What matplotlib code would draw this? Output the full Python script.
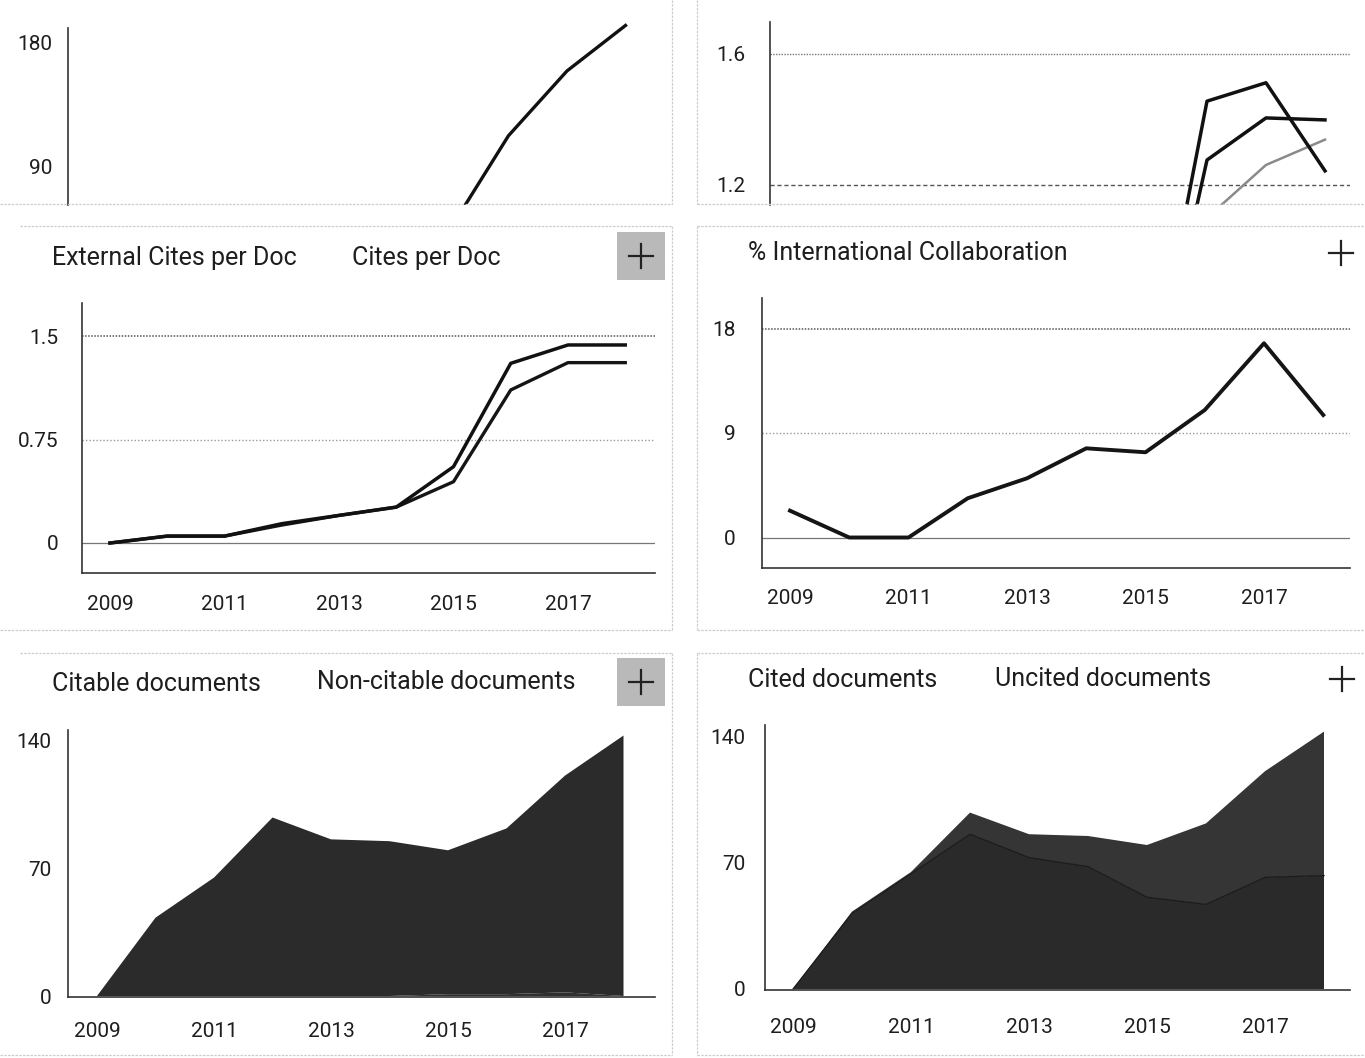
import numpy as np
import matplotlib
matplotlib.use("Agg")
import matplotlib.pyplot as plt
from matplotlib.patches import Rectangle

plt.rcParams['font.family'] = ['Roboto', 'DejaVu Sans']

# ---------------- data ----------------
years = [2009, 2010, 2011, 2012, 2013, 2014, 2015, 2016, 2017, 2018]
xtick_years = [2009, 2011, 2013, 2015, 2017]

# top-left (cropped) : total cites
total_cites = [0, 3, 4, 14, 17, 23, 44, 112, 159, 192]

# top-right (cropped) : citations per document
cpd_a = [0, 0.06, 0.07, 0.15, 0.21, 0.27, 0.53, 1.455, 1.511, 1.243]
cpd_b = [0, 0.05, 0.06, 0.13, 0.20, 0.26, 0.47, 1.276, 1.404, 1.398]
cpd_c = [0, 0.04, 0.06, 0.12, 0.18, 0.24, 0.45, 1.10, 1.261, 1.338]

# middle-left
cites_per_doc = [0, 0.05, 0.05, 0.14, 0.20, 0.26, 0.553, 1.302, 1.435, 1.435]
ext_cites_per_doc = [0, 0.05, 0.05, 0.13, 0.20, 0.26, 0.444, 1.109, 1.307, 1.307]

# middle-right
intl_collab = [2.31, 0, 0, 3.38, 5.10, 7.68, 7.34, 10.98, 16.73, 10.55]

# bottom-left
citable_docs = [0, 43, 65, 98, 86, 85, 79, 91, 119, 143]
non_citable_docs = [0, 0, 0, 0, 0, 0, 1, 1, 2, 0]

# bottom-right
uncited_docs = [0, 42, 64, 86, 73, 68, 51, 47, 62, 63]
cited_docs = [0, 1, 1, 12, 13, 17, 29, 45, 59, 80]

# ---------------- layout ----------------
W, H = 1365, 1058
fig = plt.figure(figsize=(W / 100, H / 100), dpi=100)
TXT = '#1e1e1e'
FS = 15


def px_axes(l, t, r, b, x0px, xstep, v0, v0px, vpx):
    ax = fig.add_axes([l / W, 1 - b / H, (r - l) / W, (b - t) / H])
    ax.set_xlim(2009 + (l - x0px) / xstep, 2009 + (r - x0px) / xstep)
    ax.set_ylim(v0 + (v0px - b) / vpx, v0 + (v0px - t) / vpx)
    for s in ('top', 'right'):
        ax.spines[s].set_visible(False)
    for s in ('left', 'bottom'):
        ax.spines[s].set_color('#333333')
        ax.spines[s].set_linewidth(1.2)
    ax.tick_params(length=0, labelsize=FS, colors=TXT)
    ax.set_facecolor('none')
    return ax


def grid(ax, vals, styles):
    for v, (c, ls, lw) in zip(vals, styles):
        ax.axhline(v, color=c, ls=ls, lw=lw, zorder=0)


# top-left
ax = px_axes(68, 22, 670, 205, 99, 58.5, 90, 166, 124 / 90)
ax.plot(years, total_cites, color='#111111', lw=2.4)
ax.spines['bottom'].set_visible(False)
ax.spines['left'].set_bounds(ax.get_ylim()[0], 90 + (166 - 28) / (124 / 90))
ax.set_xticks([])
ax.set_yticks([90, 180])
ax.tick_params(axis='y', pad=11)

# top-right
ax = px_axes(770, 22, 1350, 205, 794, 59, 1.2, 185, 131.5 / 0.4)
grid(ax, [1.2, 1.6], [('#555555', (0, (3, 2)), 1.0), ('#777777', (0, (1, 1)), 1.0)])
ax.plot(years, cpd_c, color='#8a8a8a', lw=1.8)
ax.plot(years, cpd_b, color='#111111', lw=2.5)
ax.plot(years, cpd_a, color='#111111', lw=2.5)
ax.spines['bottom'].set_visible(False)
ax.spines['left'].set_bounds(ax.get_ylim()[0], ax.get_ylim()[1])
ax.set_xticks([])
ax.set_yticks([1.2, 1.6])
ax.set_yticklabels(['1.2', '1.6'])
ax.tick_params(axis='y', pad=18)

# middle-left
ax = px_axes(82, 303, 655, 573, 110, 57.25, 0, 543, 207 / 1.5)
grid(ax, [0, 0.75, 1.5], [('#777777', '-', 0.9), ('#9a9a9a', (0, (1, 1.5)), 1.0),
                          ('#555555', (0, (1, 1)), 1.1)])
ax.plot(years, ext_cites_per_doc, color='#151515', lw=2.4)
ax.plot(years, cites_per_doc, color='#111111', lw=2.5)
ax.set_xticks(xtick_years)
ax.set_yticks([0, 0.75, 1.5])
ax.set_yticklabels(['0', '0.75', '1.5'])
ax.tick_params(axis='y', pad=17)
ax.tick_params(axis='x', pad=16)

# middle-right
ax = px_axes(762, 298, 1350, 568, 790, 59.25, 0, 537.5, 209 / 18)
grid(ax, [0, 9, 18], [('#777777', '-', 0.9), ('#9a9a9a', (0, (1, 1.5)), 1.0),
                      ('#555555', (0, (1, 1)), 1.1)])
ax.plot(years, intl_collab, color='#151515', lw=2.8)
ax.set_xticks(xtick_years)
ax.set_yticks([0, 9, 18])
ax.tick_params(axis='y', pad=19)
ax.tick_params(axis='x', pad=15)

# bottom-left
ax = px_axes(68, 730, 655, 997, 97, 58.5, 0, 996, 255 / 140)
ax.stackplot(years, non_citable_docs, citable_docs, colors=['#303030', '#2b2b2b'], lw=0)
ax.set_xticks(xtick_years)
ax.set_yticks([0, 70, 140])
ax.tick_params(axis='y', pad=12)
ax.tick_params(axis='x', pad=18)

# bottom-right
ax = px_axes(765, 725, 1350, 990, 793, 59, 0, 989, 252 / 140)
ax.stackplot(years, uncited_docs, cited_docs, colors=['#2a2a2a', '#353535'], lw=0)
ax.plot(years, uncited_docs, color='#1a1a1a', lw=0.9)
ax.set_xticks(xtick_years)
ax.set_yticks([0, 70, 140])
ax.tick_params(axis='y', pad=14)
ax.tick_params(axis='x', pad=20)

# ---------------- decorations ----------------
deco = fig.add_axes([0, 0, 1, 1], zorder=10)
deco.set_xlim(0, W)
deco.set_ylim(H, 0)
deco.axis('off')
deco.patch.set_alpha(0)

bc = '#cdcdcd'
for xs, ys in [
    ([0, 672], [204, 204]), ([672, 672], [0, 204]),
    ([697, 1365], [204, 204]), ([697, 697], [0, 204]),
    ([20, 672], [226, 226]), ([672, 672], [226, 630]), ([0, 672], [630, 630]),
    ([697, 1365], [226, 226]), ([697, 697], [226, 630]), ([697, 1365], [630, 630]),
    ([20, 672], [653, 653]), ([672, 672], [653, 1055]), ([0, 672], [1055, 1055]),
    ([697, 1365], [653, 653]), ([697, 697], [653, 1055]), ([697, 1365], [1055, 1055]),
]:
    deco.plot(xs, ys, color=bc, lw=0.9, ls=(0, (2, 1)))


def plus(cx, cy, box):
    if box:
        deco.add_patch(Rectangle((cx - 24, cy - 24), 48, 48, color='#b9b9b9', lw=0))
    deco.plot([cx - 12, cx + 12], [cy, cy], color='#222222', lw=1.6)
    deco.plot([cx, cx], [cy - 12, cy + 12], color='#222222', lw=1.6)


plus(641, 256, True)
plus(1341, 253, False)
plus(641, 682, True)
plus(1342, 679, False)


def title(x, y, s):
    fig.text(x / W, 1 - y / H, s, fontsize=18, color=TXT, ha='left', va='center')


title(52, 258, 'External Cites per Doc')
title(352, 258, 'Cites per Doc')
title(748, 253, '% International Collaboration')
title(52, 684, 'Citable documents')
title(317, 682, 'Non-citable documents')
title(748, 680, 'Cited documents')
title(995, 679, 'Uncited documents')

fig.savefig('out.png', dpi=100)
